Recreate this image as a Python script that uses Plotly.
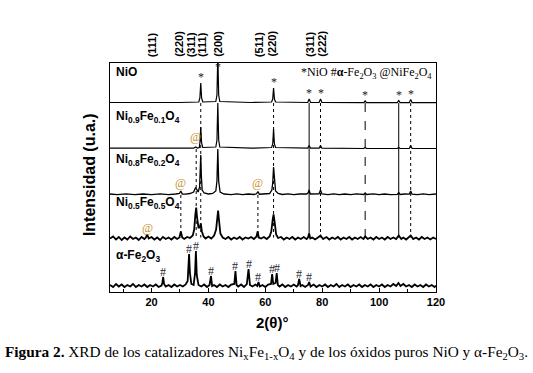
import plotly.graph_objects as go

# ---------------- data ----------------
x_range = [5.4, 120]
x_tick_step = 20

series_names = [
    "NiO",
    "Ni<sub>0.9</sub>Fe<sub>0.1</sub>O<sub>4</sub>",
    "Ni<sub>0.8</sub>Fe<sub>0.2</sub>O<sub>4</sub>",
    "Ni<sub>0.5</sub>Fe<sub>0.5</sub>O<sub>4</sub>",
    "α-Fe<sub>2</sub>O<sub>3</sub>",
]

nio_x = [5.4, 20, 30, 36.6, 37.0, 37.3, 37.6, 38.0, 42.6, 43.0, 43.3, 43.6, 44.0, 55,
         62.2, 62.6, 62.9, 63.2, 63.6, 74.9, 75.4, 75.9, 78.9, 79.4, 79.9, 94.6, 95.1, 95.6,
         106.4, 106.9, 107.4, 110.6, 111.1, 111.6, 120]
nio_y = [0.5, 0.3, 0.5, 1.0, 5, 20, 5, 1.0, 1.5, 8, 48, 8, 1.5, 0.5,
         1, 4, 15, 4, 1, 0.5, 4, 0.5, 0.5, 4, 0.5, 0.3, 2, 0.3,
         0.3, 2.5, 0.3, 0.3, 3.5, 0.3, 0.3]

ni09_x = [5.4, 20, 34.8, 35.5, 36.2, 36.8, 37.0, 37.3, 37.6, 38.0, 42.6, 43.0, 43.3, 43.6, 44.0, 55,
          62.2, 62.6, 62.9, 63.2, 63.6, 74.9, 75.4, 75.9, 78.9, 79.4, 79.9, 94.6, 95.1, 95.6,
          106.4, 106.9, 107.4, 110.6, 111.1, 111.6, 120]
ni09_y = [0.8, 0.5, 0.8, 2, 1, 1.5, 6, 22, 6, 1.5, 2, 9, 46, 9, 2, 0.8,
          1.5, 5, 20, 5, 1.5, 0.8, 3.5, 0.8, 0.8, 3.5, 0.8, 0.5, 1.5, 0.5,
          0.5, 1.5, 0.5, 0.5, 3.5, 0.5, 0.5]

ni08_x = [5.4, 8, 11, 14, 17, 20, 23, 26, 28.5, 29.8, 30.3, 30.8, 32, 33.5, 34.8, 35.4, 35.8, 36.4,
          36.9, 37.1, 37.3, 37.5, 37.8, 38.5, 40, 41.5, 42.6, 43.0, 43.3, 43.6, 44.1, 45.5, 48, 50,
          52, 54, 56, 56.9, 57.4, 57.9, 59.5, 61.5, 62.3, 62.6, 62.9, 63.2, 63.6, 64.5, 66, 68, 70,
          72, 74.5, 75.0, 75.4, 75.8, 77.5, 78.9, 79.4, 79.9, 82, 84, 86, 88, 90, 92, 94.6, 95.1,
          95.6, 98, 100, 102, 104, 106.4, 106.9, 107.4, 109, 110.6, 111.1, 111.6, 113.5, 115.5,
          117.5, 120]
ni08_y = [1, 0.3, 1.2, 0.3, 1, 0.4, 1.1, 0.3, 1, 1.5, 4, 1, 0.8, 1.5, 3, 7, 6, 3,
          8, 20, 40, 20, 5, 2, 1, 1.5, 4, 14, 46, 14, 3, 1, 0.4, 1.1,
          0.3, 1, 0.5, 1.2, 3.5, 0.8, 1, 1.5, 5, 12, 28, 12, 4, 1.5, 0.5, 1.2, 0.3,
          1, 1, 2, 5, 1, 0.8, 1.2, 5, 1, 0.4, 1.2, 0.3, 1, 0.4, 1.2, 0.5, 2,
          0.5, 1.1, 0.3, 1, 0.4, 0.6, 2.5, 0.5, 1, 0.8, 4, 0.8, 0.4, 1.1,
          0.3, 1]

ni05_x = [5.4, 6.5, 7.5, 8.5, 9.5, 10.5, 11.5, 12.5, 13.5, 14.5, 15.5, 16.5, 17.5, 18.0, 18.5, 19.0,
          20, 21, 22, 23, 24, 25, 26, 27, 28, 29, 29.8, 30.3, 30.8, 31.5, 32.5, 33.5, 34.5, 35.0,
          35.4, 35.7, 36.0, 36.5, 37.0, 37.3, 37.7, 38.3, 39, 40, 41, 42, 42.7, 43.1, 43.4, 43.7,
          44.2, 45, 46, 47, 48, 49, 50, 51, 52, 53, 54, 55, 56, 56.9, 57.3, 57.7, 58.5, 59.5, 60.5,
          61.5, 62.1, 62.6, 62.9, 63.3, 63.8, 64.5, 65.5, 66.5, 67.5, 68.5, 69.5, 70.5, 71.5, 72.5,
          73.5, 74.5, 75.0, 75.4, 75.8, 76.5, 77.5, 78.5, 79.4, 80.3, 81.5, 82.5, 83.5, 84.5, 85.5,
          86.5, 87.5, 88.5, 89.5, 90.5, 91.5, 92.5, 93.5, 94.5, 95.1, 96, 97, 98, 99, 100, 101, 102,
          103, 104, 105, 106, 106.9, 107.8, 108.5, 109.5, 110.3, 111.1, 112, 113, 114, 115, 116, 117,
          118, 119, 120]
ni05_y = [1, 3, 0, 2.5, -0.5, 2, 0, 3, 0.5, 2, -0.5, 2.5, 0.5, 2, 5, 1,
          2.5, 0, 2, -0.5, 2.5, 0.5, 2, 0, 2.5, 0.5, 2, 8, 2, 0.5, 2.5, 1.5, 4, 10,
          25, 32, 22, 12, 12, 16, 8, 3, 1, 3, 1, 4, 10, 24, 29, 20,
          6, 2, 0.5, 2.5, 0, 2, 0.5, 2.5, 0, 2, 1, 2.5, 0.5, 3, 8, 2, 1, 2.5, 0.5,
          3, 8, 20, 25, 17, 5, 1.5, 2.5, 0, 2, 0.5, 2.5, 0, 2, 0.5,
          2.5, 0.5, 2, 6, 1, 2, 0, 2, 4, 0.5, 2.5, 0, 2, 0.5, 2.5,
          0, 2, 0.5, 2.5, 0, 2, 0.5, 2.5, 0.5, 3, 0.5, 2, 0, 2.5, 0.5, 2, 0,
          2.5, 0.5, 2, 0.5, 4, 0.5, 2, 0, 2, 4, 0.5, 2, 0, 2.5, 0.5, 2,
          0, 2, 0.5]

fe2o3_x = [5.4, 6.5, 7.5, 8.5, 9.5, 10.5, 11.5, 12.5, 13.5, 14.5, 15.5, 16.5, 17.5, 18.5, 19.5, 20.5,
           21.5, 22.5, 23.5, 23.8, 24.1, 24.4, 25, 26, 27, 28, 29, 30, 31, 32, 32.7, 33.0, 33.2, 33.5,
           34.0, 34.8, 35.3, 35.6, 35.9, 36.5, 37.5, 38.5, 39.5, 40.4, 40.9, 41.3, 42, 43, 44, 45, 46,
           47, 48, 49.1, 49.5, 49.9, 50.5, 51.5, 52.5, 53.5, 54.1, 54.6, 55.5, 56.5, 57.2, 57.6, 58.1,
           59, 60, 61, 62.0, 62.4, 62.8, 63.6, 64.0, 64.4, 65, 66, 67, 68, 69, 70, 71, 71.5, 71.9,
           72.4, 73, 74, 75.0, 75.4, 75.9, 77, 78, 79, 80, 81, 82, 83, 84, 85, 86, 87, 88, 89, 90,
           91, 92, 93, 94, 95, 96, 97, 98, 99, 100, 101, 102, 103, 104, 105, 106, 106.8, 107.5, 108.5,
           109.5, 110.5, 111.5, 112.5, 113.5, 114.5, 115.5, 116.5, 117.5, 118.5, 119.5, 120]
fe2o3_y = [2, 0, 3, 0.5, 2.5, 0, 2, 0.5, 3, 0, 2, 0.5, 2.5, 0, 2, 0.5,
           2.5, 0, 1.5, 4, 10, 3, 0.5, 2, 0, 2.5, 0.5, 2, 0.5, 2.5, 6, 22, 33, 14,
           3, 2, 14, 36, 12, 2, 0.5, 2.5, 0, 2, 11, 1, 2, 0, 2.5, 0.5, 2,
           0, 2.5, 3, 16, 2, 0.5, 2.5, 0, 3, 18, 2, 0.5, 2.5, 1, 5, 0.5,
           2, 0, 2.5, 3, 13, 3, 4, 14, 2, 0.5, 2.5, 0, 2, 0.5, 2.5, 0.5, 2, 8,
           1, 2, 0, 2, 5, 0.5, 2.5, 0, 2, 0.5, 2.5, 0, 2, 0.5, 3, 0, 2, 0.5, 2.5, 0,
           2, 0.5, 2.5, 0, 2, 0.5, 2.5, 0, 2, 0.5, 2.5, 0, 2, 0.5, 3, 1, 4, 1, 3,
           0.5, 2, 0, 2.5, 0.5, 2, 0, 2.5, 0.5, 2, 0, 1.5]

series_x = [nio_x, ni09_x, ni08_x, ni05_x, fe2o3_x]
series_y = [nio_y, ni09_y, ni08_y, ni05_y, fe2o3_y]

hkl_labels = ["(111)", "(220)", "(311)", "(111)", "(200)", "(511)", "(220)", "(311)", "(222)"]
hkl_pos = [20.1, 29.6, 33.8, 37.6, 43.3, 57.7, 62.2, 75.5, 79.8]

nio_peaks = [37.3, 43.3, 62.9, 75.4, 79.4, 95.1, 106.9, 111.1]
fe2o3_peaks = [24.1, 33.2, 35.6, 40.9, 49.5, 54.1, 57.6, 62.4, 64.0, 71.9, 75.4]
spinel_series = [1, 2, 2, 3]
spinel_peaks = [35.5, 30.3, 57.4, 18.7]

guide_pos = [30.3, 35.7, 37.3, 57.4, 62.9, 75.4, 79.4, 95.1, 106.9, 111.1]
guide_from = [2, 1, 0, 2, 0, 0, 0, 0, 0, 0]

# ---------------- layout constants ----------------
offsets = [189, 143, 97, 52.5, 5]
label_y = [220, 175, 132, 89, 36]
y_top = 229
guide_dash = ["dot", "dot", "dot", "dot", "dot", "solid", "dot", "dash", "solid", "dot"]
SANS = "Liberation Sans, Arial, sans-serif"
SERIF = "Liberation Serif, Times New Roman, serif"
widths = [1.2, 1.2, 1.3, 1.8, 1.8]


def peak_top(xs, ys, p, off):
    vals = [y for x, y in zip(xs, ys) if abs(x - p) <= 0.35]
    return off + (max(vals) if vals else 0)


fig = go.Figure()
for i in range(5):
    fig.add_trace(go.Scatter(
        x=series_x[i], y=[v + offsets[i] for v in series_y[i]],
        mode="lines", line=dict(color="black", width=widths[i]),
        showlegend=False, hoverinfo="skip"))

annotations = []
# series labels
for i, name in enumerate(series_names):
    annotations.append(dict(x=0.012, xref="paper", y=label_y[i], yref="y", text="<b>" + name + "</b>",
                            showarrow=False, xanchor="left", yanchor="middle",
                            font=dict(family=SANS, size=12, color="black")))
# NiO stars
for p in nio_peaks:
    yt = min(peak_top(nio_x, nio_y, p, offsets[0]), y_top - 10)
    annotations.append(dict(x=p, y=yt, xref="x", yref="y", text="*", showarrow=False,
                            yanchor="bottom", yshift=-3,
                            font=dict(family=SERIF, size=12, color="#1a1a1a")))
# hematite marks
for p in fe2o3_peaks:
    yt = peak_top(fe2o3_x, fe2o3_y, p, offsets[4])
    annotations.append(dict(x=p, y=yt, xref="x", yref="y", text="#", showarrow=False,
                            yanchor="bottom", yshift=-4,
                            font=dict(family=SERIF, size=12, color="#2a2a3a")))
# spinel marks
for s, p in zip(spinel_series, spinel_peaks):
    annotations.append(dict(x=p, y=offsets[s] + 3, xref="x", yref="y", text="@", showarrow=False,
                            yanchor="bottom",
                            font=dict(family=SERIF, size=12, color="#c8902a")))
# hkl labels on top
for lab, p in zip(hkl_labels, hkl_pos):
    annotations.append(dict(x=p, y=1, xref="x", yref="paper", text="<b>" + lab + "</b>",
                            showarrow=False, textangle=-90, yanchor="bottom", yshift=4,
                            font=dict(family=SANS, size=11, color="black")))
# phase key
annotations.append(dict(x=0.995, y=0.955, xref="paper", yref="paper",
                        text="*NiO #<b>α</b>-Fe<sub>2</sub>O<sub>3</sub> @NiFe<sub>2</sub>O<sub>4</sub>",
                        showarrow=False, xanchor="right", yanchor="middle",
                        font=dict(family=SERIF, size=12, color="black")))
# axis titles
annotations.append(dict(x=0.497, y=-0.135, xref="paper", yref="paper", text="<b>2(θ)°</b>",
                        showarrow=False, xanchor="center", yanchor="middle",
                        font=dict(family=SANS, size=15, color="black")))
annotations.append(dict(x=-0.061, y=0.511, xref="paper", yref="paper", text="<b>Intensidad (u.a.)</b>",
                        showarrow=False, textangle=-90, xanchor="center", yanchor="middle",
                        font=dict(family=SANS, size=16, color="black")))
# caption
annotations.append(dict(x=0.48, y=-0.266, xref="paper", yref="paper",
                        text="<b>Figura 2.</b> XRD de los catalizadores Ni<sub>x</sub>Fe<sub>1-x</sub>O<sub>4</sub> y de los óxidos puros NiO y α-Fe<sub>2</sub>O<sub>3</sub>.",
                        showarrow=False, xanchor="center", yanchor="middle",
                        font=dict(family=SERIF, size=15.3, color="black")))

shapes = []
for p, f, d in zip(guide_pos, guide_from, guide_dash):
    shapes.append(dict(type="line", xref="x", yref="y", x0=p, x1=p,
                       y0=offsets[f], y1=offsets[3] + 2,
                       line=dict(color="black", width=1, dash=d)))

fig.update_layout(
    width=533, height=373,
    margin=dict(l=110, r=97, t=63, b=81),
    paper_bgcolor="white", plot_bgcolor="white",
    annotations=annotations, shapes=shapes,
    xaxis=dict(range=x_range, tick0=0, dtick=x_tick_step, ticks="inside", ticklen=4,
               tickcolor="black", showline=True, mirror=True, linecolor="black", linewidth=1,
               showgrid=False, zeroline=False,
               tickfont=dict(family=SANS, size=11, color="black", weight="bold"),
               minor=dict(ticks="inside", ticklen=3, dtick=10, tickcolor="black", showgrid=False)),
    yaxis=dict(range=[0, y_top], showticklabels=False, ticks="", showline=True, mirror=True,
               linecolor="black", linewidth=1, showgrid=False, zeroline=False),
)

fig.write_html("out.html", config={"displayModeBar": False},
               post_script="document.body.style.margin='0';")
